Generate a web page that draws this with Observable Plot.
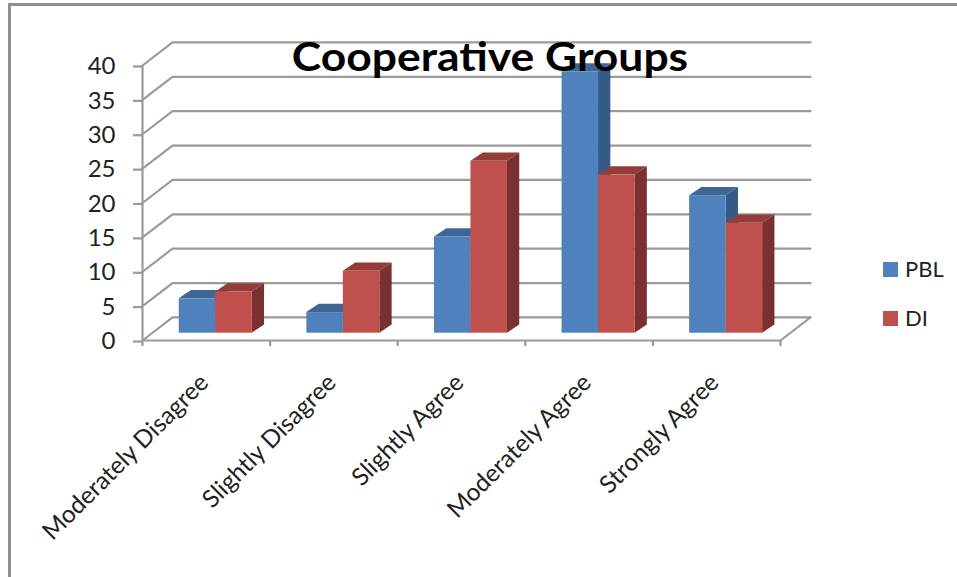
<!DOCTYPE html>
<html>
<head>
<meta charset="utf-8">
<script src="https://cdn.jsdelivr.net/npm/d3@7"></script>
<script src="https://cdn.jsdelivr.net/npm/@observablehq/plot@0.6"></script>
<style>
  html, body { margin: 0; padding: 0; background: #fff; overflow: hidden; }
  #chart { position: relative; width: 957px; height: 577px; font-family: Lato, sans-serif; color: #111; }
  #chart svg { position: absolute; left: 0; top: 0; font-family: Lato, sans-serif; }
  #frame { position: absolute; left: 8px; top: 3px; right: -4px; bottom: -4px; border: 3px solid #8f8f8f; box-sizing: border-box; }
  #title { position: absolute; left: 0; width: 980px; top: 32px; text-align: center; font-size: 40px; font-weight: 700; color: #000; transform: scaleX(1.11); transform-origin: 490px 0; }
  .key { position: absolute; left: 883px; width: 15px; height: 15px; }
  .keyLabel { position: absolute; left: 905px; font-size: 22px; line-height: 24px; color: #222; }
</style>
</head>
<body>
<div id="chart"></div>
<script>
const categories = ["Moderately Disagree", "Slightly Disagree", "Slightly Agree", "Moderately Agree", "Strongly Agree"];
const pbl = [5, 3, 14, 38, 20];
const di = [6, 9, 25, 23, 16];
const valueTicks = [0, 5, 10, 15, 20, 25, 30, 35, 40];
const seriesColors = {
  PBL: {front: "#4f81bd", top: "#3e6796", side: "#345a87"},
  DI: {front: "#c0504d", top: "#943c3a", side: "#7a302e"}
};

// Oblique projection, in data units: one category is one x unit.
const wallDx = 0.235, wallDy = 3.35;
const barInset = 0.288, barLift = 1.06, barWidth = 0.286;
const barDx = 0.0964, barDy = 1.2;
const gridColor = "#9a9a9a";
const gridWidth = 2.2;

// Bent gridlines: floor edge to back wall, then along the wall.
const gridRows = valueTicks.flatMap(v => [
  {v, x: 0, y: v},
  {v, x: wallDx, y: v + wallDy},
  {v, x: 5 + wallDx, y: v + wallDy}
]);

function barRows(values, offset) {
  return values.map((v, i) => {
    const x1 = i + barInset + offset * barWidth, x2 = x1 + barWidth;
    return {i, v, x1, x2, y1: barLift, y2: barLift + v};
  });
}

// Each visible face is a y-banded area over x, so it goes through the plot's scales.
function topFace(rows) {
  return rows.flatMap(b => [
    {i: b.i, x: b.x1, lo: b.y2, hi: b.y2},
    {i: b.i, x: b.x1 + barDx, lo: b.y2, hi: b.y2 + barDy},
    {i: b.i, x: b.x2, lo: b.y2, hi: b.y2 + barDy},
    {i: b.i, x: b.x2 + barDx, lo: b.y2 + barDy, hi: b.y2 + barDy}
  ]);
}
function sideFace(rows) {
  return rows.flatMap(b => [
    {i: b.i, x: b.x2, lo: b.y1, hi: b.y2},
    {i: b.i, x: b.x2 + barDx, lo: b.y1 + barDy, hi: b.y2 + barDy}
  ]);
}
function barMarks(values, offset, c) {
  const rows = barRows(values, offset);
  const face = (data, fill) => Plot.areaY(data, {x: "x", y1: "lo", y2: "hi", z: "i", fill});
  return [
    face(topFace(rows), c.top),
    face(sideFace(rows), c.side),
    Plot.rectY(rows, {x1: "x1", x2: "x2", y1: "y1", y2: "y2", fill: c.front, inset: 0})
  ];
}

const plot = Plot.plot({
  width: 957,
  height: 577,
  marginLeft: 142,
  marginRight: 177,
  marginTop: 65,
  marginBottom: 237,
  x: {domain: [0, 5]},
  y: {domain: [0, 40]},
  style: {background: "transparent", overflow: "visible"},
  marks: [
    Plot.line(gridRows, {x: "x", y: "y", z: "v", stroke: gridColor, strokeWidth: gridWidth}),
    Plot.line([{x: 5, y: 0}, {x: 5 + wallDx, y: wallDy}], {x: "x", y: "y", stroke: gridColor, strokeWidth: gridWidth}),
    Plot.ruleX([0], {y1: 0, y2: 40, stroke: gridColor, strokeWidth: gridWidth}),
    Plot.ruleY([0], {x1: 0, x2: 5, stroke: gridColor, strokeWidth: gridWidth}),
    Plot.axisY({ticks: valueTicks, tickSize: 9, tickPadding: 18, fontSize: 24, stroke: gridColor, strokeWidth: gridWidth, color: "#222", label: null, textStroke: "none", dy: 1, tickFormat: d => String(d)}),
    Plot.axisX({ticks: [0, 1, 2, 3, 4, 5], tickSize: 6, tickFormat: () => "", stroke: gridColor, strokeWidth: gridWidth, label: null}),
    ...barMarks(pbl, 0, seriesColors.PBL),
    ...barMarks(di, 1, seriesColors.DI),
    Plot.text(categories, {
      x: (d, i) => i + 0.5,
      y: () => 0,
      text: d => d,
      dx: -2,
      dy: 38,
      rotate: -45,
      textAnchor: "end",
      fontSize: 24.4,
      fill: "#222"
    })
  ]
});

const chart = document.getElementById("chart");
chart.innerHTML = `
  <div id="frame"></div>
  <div id="title">Cooperative Groups</div>
  <div class="key" style="top:262px;background:${seriesColors.PBL.front}"></div>
  <div class="keyLabel" style="top:257px">PBL</div>
  <div class="key" style="top:311px;background:${seriesColors.DI.front}"></div>
  <div class="keyLabel" style="top:306px">DI</div>`;
chart.insertBefore(plot, chart.querySelector("#title"));
</script>
</body>
</html>
